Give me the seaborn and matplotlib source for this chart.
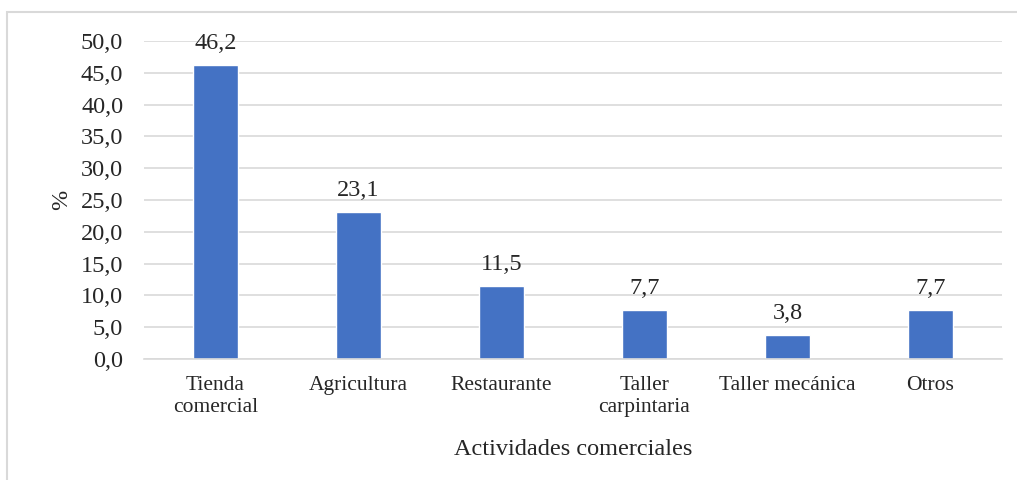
import matplotlib
matplotlib.use("Agg")
import matplotlib.pyplot as plt
import matplotlib.patches as patches
import seaborn as sns
import pandas as pd

# data
categories = ["Tienda\ncomercial", "Agricultura", "Restaurante",
              "Taller\ncarpintaria", "Taller mecánica", "Otros"]
percent = [46.2, 23.1, 11.5, 7.7, 3.8, 7.7]
yticks = [0, 5, 10, 15, 20, 25, 30, 35, 40, 45, 50]

df = pd.DataFrame({"actividad": categories, "pct": percent})

sns.set_theme(style="white")
plt.rcParams["font.family"] = ["Liberation Serif", "DejaVu Serif"]

fig = plt.figure(figsize=(10.17, 4.80), dpi=100)
ax = fig.add_axes([0.1416, 0.252, 0.8436, 0.6625])

sns.barplot(data=df, x="actividad", y="pct", color="#4472C4",
            saturation=1, width=0.31, ax=ax)

ax.set_ylim(0, 50)
ax.set_xlim(-0.5, len(categories) - 0.5)
ax.set_yticks(yticks)
ax.set_yticklabels([f"{v:.1f}".replace(".", ",") for v in yticks], fontsize=17.5)
ax.tick_params(axis="x", labelsize=15.5, length=0, pad=12)
ax.tick_params(axis="y", length=0, pad=15)
for lab in ax.get_xticklabels():
    lab.set_linespacing(1.25)

ax.yaxis.grid(True, color="#D9D9D9", linewidth=1.2)
ax.set_axisbelow(True)
for name, spine in ax.spines.items():
    spine.set_visible(name == "bottom")
ax.spines["bottom"].set_color("#D9D9D9")
ax.spines["bottom"].set_linewidth(1.2)

ax.bar_label(ax.containers[0], labels=[f"{v:.1f}".replace(".", ",") for v in percent],
             padding=8, fontsize=17.5)

ax.set_xlabel("Actividades comerciales", fontsize=17.5, labelpad=16)
ax.set_ylabel("%", fontsize=17.5, labelpad=6)

# outer chart border (clipped at right and bottom as in the reference)
fig.patches.append(patches.Rectangle((7 / 1017, -0.1), 1.2, 1.1 - 12 / 480,
                                     transform=fig.transFigure, fill=False,
                                     edgecolor="#D9D9D9", linewidth=1.5))

fig.savefig("out.png", dpi=100)
